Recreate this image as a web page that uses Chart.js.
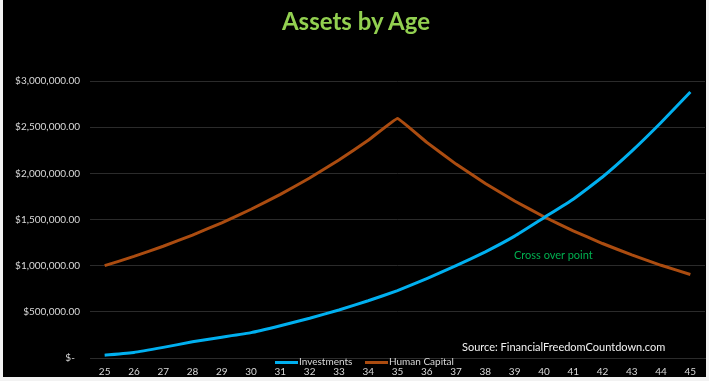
<!DOCTYPE html>
<html>
<head>
<meta charset="utf-8">
<script src="https://cdn.jsdelivr.net/npm/chart.js@4.4.1/dist/chart.umd.min.js"></script>
<style>
    body { margin: 0; background: #f2f2f2; font-family: Lato, sans-serif; }
    #frame { position: absolute; left: 3px; top: 0; width: 703px; height: 377px; background: #000; overflow: hidden; }
    #frame canvas { position: absolute; left: 0; top: 0; }
    .title { position: absolute; left: 0; width: 706px; top: 6px; text-align: center; color: #92d050; font-weight: bold; font-size: 24px; }
    .note { position: absolute; white-space: nowrap; }
    #cross { left: 511px; top: 248px; color: #00b050; font-size: 11px; }
    #source { left: 459px; top: 340px; color: #f2f2f2; font-size: 11px; }
    #legend { position: absolute; left: 272px; top: 355px; font-size: 10px; color: #d9d9d9; white-space: nowrap; }
    #legend span.item { display: inline-block; margin-right: 10px; }
    #legend span.swatch { display: inline-block; width: 23px; height: 3px; vertical-align: middle; margin-right: 1px; }
</style>
</head>
<body>
<div id="frame">
    <canvas id="assetsChart" width="703" height="377"></canvas>
    <div class="title">Assets by Age</div>
    <div class="note" id="cross">Cross over point</div>
    <div class="note" id="source">Source: FinancialFreedomCountdown.com</div>
    <div id="legend"></div>
</div>
<script>
// Données
const ages = ['25', '26', '27', '28', '29', '30', '31', '32', '33', '34', '35',
              '36', '37', '38', '39', '40', '41', '42', '43', '44', '45'];

const investments = [30000, 60000, 115000, 175000, 225000, 275000, 350000, 430000, 520000, 620000, 730000,
                     860000, 1000000, 1150000, 1320000, 1520000, 1720000, 1960000, 2240000, 2550000, 2880000];

const humanCapital = [1000000, 1100000, 1210000, 1331000, 1464000, 1611000, 1772000, 1949000, 2144000, 2358000, 2594000,
                      2335000, 2100000, 1890000, 1700000, 1530000, 1378000, 1240000, 1116000, 1004000, 904000];

const yTicks = [0, 500000, 1000000, 1500000, 2000000, 2500000, 3000000];

const seriesColors = {
    'Investments': '#00b0f0',
    'Human Capital': '#ab4c10'
};

function formatDollars(value) {
    if (value === 0) return '$-  ';
    return '$' + value.toLocaleString('en-US', { minimumFractionDigits: 2, maximumFractionDigits: 2 });
}

function createChart() {
    const ctx = document.getElementById('assetsChart').getContext('2d');

    const chart = new Chart(ctx, {
        type: 'line',
        data: {
            labels: ages,
            datasets: [{
                label: 'Investments',
                data: investments,
                borderColor: seriesColors['Investments'],
                borderWidth: 3,
                pointRadius: 0,
                tension: 0.1
            }, {
                label: 'Human Capital',
                data: humanCapital,
                borderColor: seriesColors['Human Capital'],
                borderWidth: 3,
                pointRadius: 0,
                tension: 0.06
            }]
        },
        options: {
            responsive: false,
            animation: false,
            layout: {
                padding: { top: 81, right: 1, bottom: 0, left: 0 }
            },
            plugins: {
                legend: { display: false },
                title: { display: false },
                tooltip: { enabled: false }
            },
            scales: {
                x: {
                    offset: true,
                    grid: { display: false, drawTicks: false },
                    border: { display: true, color: '#2b2b2b', width: 1 },
                    ticks: {
                        color: '#d9d9d9',
                        padding: 8,
                        maxRotation: 0,
                        autoSkip: false,
                        font: { family: 'Lato', size: 10 }
                    },
                    afterFit: function(scale) { scale.height = 19; }
                },
                y: {
                    min: 0,
                    max: 3000000,
                    afterBuildTicks: function(scale) {
                        scale.ticks = yTicks.map(v => ({ value: v }));
                    },
                    grid: { color: '#2b2b2b', drawTicks: false },
                    border: { display: false },
                    ticks: {
                        color: '#d9d9d9',
                        padding: 10,
                        font: { family: 'Lato', size: 10 },
                        callback: function(value) { return formatDollars(value); }
                    },
                    afterFit: function(scale) { scale.width = 87; }
                }
            }
        }
    });

    // Légende construite à partir des séries
    document.getElementById('legend').innerHTML = chart.data.datasets
        .map(ds => `
            <span class="item"><span class="swatch" style="background:${ds.borderColor}"></span>${ds.label}</span>
        `).join('');
}

document.addEventListener('DOMContentLoaded', () => {
    createChart();
});
</script>
</body>
</html>
